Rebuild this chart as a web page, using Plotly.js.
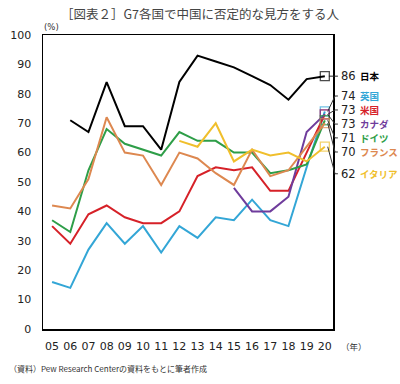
<!DOCTYPE html>
<html><head><meta charset="utf-8">
<script src="https://cdn.plot.ly/plotly-3.0.1.min.js"></script>
<style>html,body{margin:0;padding:0;background:#fff}#c{width:400px;height:384px}</style>
</head><body><div id="c"></div>
<script>
const years = [5,6,7,8,9,10,11,12,13,14,15,16,17,18,19,20];
const yearLabels = ['05','06','07','08','09','10','11','12','13','14','15','16','17','18','19','20'];
const countries = ['日本','英国','米国','カナダ','ドイツ','フランス','イタリア'];
const japan   = [null,71,67,84,69,69,61,84,93,91,89,86,83,78,85,86];
const uk      = [16,14,27,36,29,35,26,35,31,38,37,44,37,35,55,74];
const us      = [35,29,39,42,38,36,36,40,52,55,54,55,47,47,60,73];
const canada  = [null,null,null,null,null,null,null,null,null,null,48,40,40,45,67,73];
const germany = [37,33,54,68,63,61,59,67,64,64,60,60,53,54,56,71];
const france  = [42,41,51,72,60,59,49,60,58,53,49,61,52,54,62,70];
const italy   = [null,null,null,null,null,null,null,64,62,70,57,61,59,60,57,62];

const series = [japan, uk, us, canada, germany, france, italy];
const colors = ['#000000','#33a6d6','#d62128','#6f3c9c','#2e9e48','#dd8850','#f0bf2c'];
// label vertical positions (paper fraction) for the right-side labels
const labelPos = [0.86,0.7925,0.745,0.697,0.650,0.602,0.528];

const traces = [];
series.forEach((s,i)=>{
  const sizes = s.map((v,k)=> k===s.length-1 ? 9 : 0);
  traces.push({x:years, y:s, type:'scatter', mode:'lines+markers', connectgaps:false,
    line:{color:colors[i], width:2}, marker:{symbol:'square-open', size:sizes, color:colors[i], line:{width:1.3,color:colors[i]}},
    hoverinfo:'skip', showlegend:false, cliponaxis:false});
});

const x0 = 4.5, x1 = 20.45;
const px = v => (v - x0)/(x1 - x0);
const shapes = [];
const annotations = [];
series.forEach((s,i)=>{
  const last = s[s.length-1];
  const lx = px(years[years.length-1]);
  const ly = last/100;
  const ty = labelPos[i];
  if (i===0) {
    shapes.push({type:'line', xref:'paper', yref:'paper', x0:lx+0.014, y0:ly, x1:1.017, y1:ty, line:{color:'#222',width:1}});
  } else {
    shapes.push({type:'line', xref:'paper', yref:'paper', x0:lx+0.01, y0:ly, x1:1.007, y1:ty, line:{color:'#333',width:1}});
    shapes.push({type:'line', xref:'paper', yref:'paper', x0:1.007, y0:ty, x1:1.017, y1:ty, line:{color:'#333',width:1}});
  }
  annotations.push({xref:'paper', yref:'paper', x:1.022, y:ty, xanchor:'left', yanchor:'middle', showarrow:false,
    text:String(last), font:{family:'DejaVu Sans', size:11.5, color:'#222'}});
  annotations.push({xref:'paper', yref:'paper', x:1.085, y:ty, xanchor:'left', yanchor:'middle', showarrow:false,
    text:'<b>'+countries[i]+'</b>', font:{family:'Noto Sans CJK JP', size:9.5, color:colors[i]}});
});
annotations.push({xref:'paper', yref:'paper', x:-0.005, y:1.005, xanchor:'left', yanchor:'bottom', showarrow:false,
  text:'(%)', font:{family:'DejaVu Sans', size:8.5, color:'#333'}});
annotations.push({xref:'paper', yref:'paper', x:1.02, y:-0.03, xanchor:'left', yanchor:'top', showarrow:false,
  text:'（年）', font:{family:'Noto Sans CJK JP', size:8.5, color:'#333'}});
annotations.push({xref:'paper', yref:'paper', x:-0.125, y:-0.11, xanchor:'left', yanchor:'top', showarrow:false,
  text:'（資料）Pew Research Centerの資料をもとに筆者作成', font:{family:'Noto Sans CJK JP', size:8, color:'#333'}});

const layout = {
  width:400, height:384,
  margin:{l:43, r:67, t:35, b:55},
  paper_bgcolor:'#fff', plot_bgcolor:'#fff',
  title:{text:'［図表２］G7各国で中国に否定的な見方をする人', font:{family:'Noto Sans CJK JP', size:12.5, color:'#444'}, x:0.5, xanchor:'center', y:0.962, yanchor:'middle'},
  xaxis:{range:[x0,x1], tickvals:years, ticktext:yearLabels, showgrid:false, zeroline:false,
    showline:true, linecolor:'#000', linewidth:1.5, mirror:true, ticks:'', ticklabelstandoff:6,
    tickfont:{family:'DejaVu Sans', size:11, color:'#222'}, fixedrange:true},
  yaxis:{range:[0,100], dtick:10, tick0:0, showgrid:false, zeroline:false,
    showline:true, linecolor:'#000', linewidth:1.5, mirror:true, ticks:'', ticklabelstandoff:8,
    tickfont:{family:'DejaVu Sans', size:11, color:'#222'}, fixedrange:true},
  shapes:shapes, annotations:annotations
};
Plotly.newPlot('c', traces, layout, {displayModeBar:false, staticPlot:true});
</script></body></html>
